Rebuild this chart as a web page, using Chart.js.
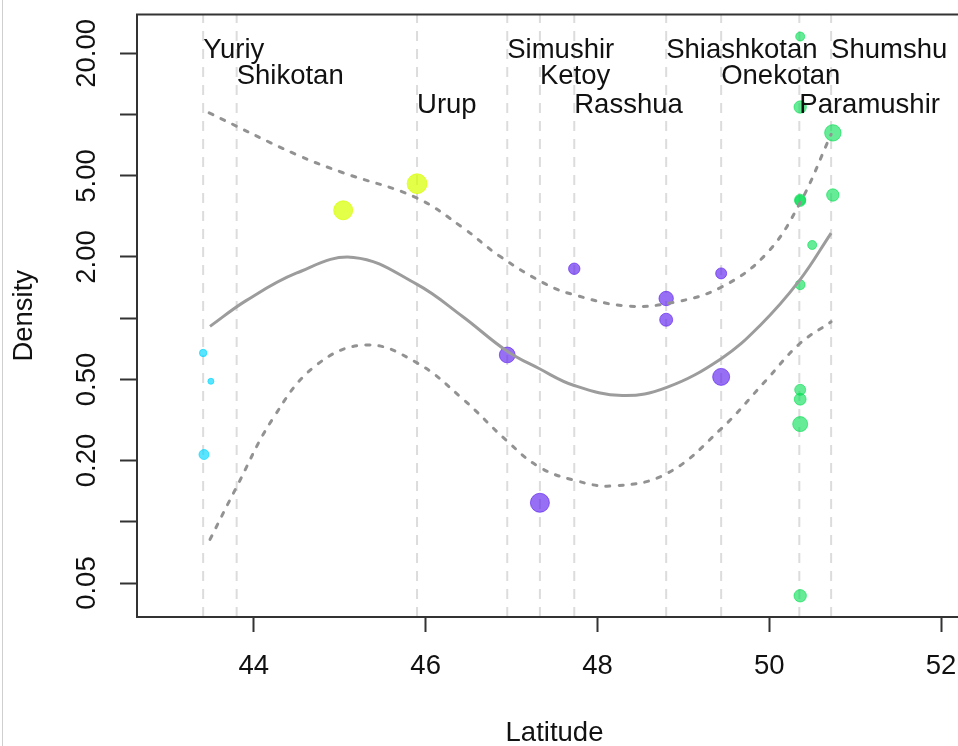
<!DOCTYPE html>
<html>
<head>
<meta charset="utf-8">
<script src="https://cdn.jsdelivr.net/npm/chart.js@4.4.1/dist/chart.umd.min.js"></script>
<style>
  html, body { margin: 0; padding: 0; background: #fff; overflow: hidden; }
  #wrap { position: absolute; left: 0; top: 0; width: 990px; height: 746px; }
  #edge { position: absolute; left: 2px; top: 0; width: 1px; height: 746px; background: #cfcfcf; }
</style>
</head>
<body>
<div id="wrap"><canvas id="kuril" width="990" height="746"></canvas></div>
<div id="edge"></div>
<script>
  // =============== data ===============
  const islands = ["Yuriy", "Shikotan", "Urup", "Simushir", "Ketoy", "Rasshua", "Shiashkotan", "Onekotan", "Paramushir", "Shumshu"];
  const islandLat = [43.41, 43.80, 45.90, 46.95, 47.33, 47.73, 48.80, 49.44, 50.35, 50.72];
  const labelRowDensity = [20.6, 15.4, 11.1];

  const southLat = [43.41, 43.50, 43.42];
  const southDensity = [0.675, 0.490, 0.214];
  const southSize = [3.7, 3, 5];

  const yellowLat = [45.04, 45.90];
  const yellowDensity = [3.39, 4.58];
  const yellowSize = [9.5, 9.9];

  const middleLat = [46.95, 47.33, 47.73, 48.80, 48.80, 49.44, 49.44];
  const middleDensity = [0.660, 0.124, 1.75, 1.25, 0.983, 1.66, 0.515];
  const middleSize = [7.9, 9.5, 5.7, 7.2, 6.5, 5.5, 8.5];

  const northLat = [50.36, 50.36, 50.74, 50.36, 50.36, 50.74, 50.50, 50.36, 50.36, 50.36, 50.36, 50.36];
  const northDensity = [24.2, 10.9, 8.14, 3.82, 3.77, 4.03, 2.29, 1.46, 0.445, 0.400, 0.302, 0.0433];
  const northSize = [4.5, 6.2, 8.2, 5.5, 5.5, 6.2, 4.5, 4.9, 5.5, 5.9, 7.5, 6.2];

  const fitLat = [43.49, 43.91, 44.50, 45.16, 45.89, 46.43, 46.94, 47.32, 47.73, 48.29, 48.80, 49.44, 49.89, 50.35, 50.72];
  const fitDensity = [0.912, 1.22, 1.67, 1.99, 1.475, 1.02, 0.693, 0.566, 0.467, 0.417, 0.456, 0.633, 0.919, 1.53, 2.62];

  const upperLat = [43.48, 44.49, 45.03, 45.89, 46.43, 46.86, 47.40, 47.71, 48.33, 48.88, 49.44, 49.96, 50.35, 50.72];
  const upperDensity = [10.2, 6.38, 5.2, 3.91, 2.79, 2.02, 1.47, 1.31, 1.15, 1.195, 1.42, 2.06, 3.63, 8.0];

  const lowerLat = [43.49, 43.79, 44.22, 44.72, 45.31, 45.89, 46.43, 46.94, 47.32, 47.73, 48.18, 48.80, 49.42, 49.96, 50.35, 50.72];
  const lowerDensity = [0.0819, 0.1456, 0.3206, 0.585, 0.739, 0.607, 0.402, 0.251, 0.186, 0.160, 0.150, 0.172, 0.281, 0.494, 0.747, 0.96];

  const xTicks = [44, 46, 48, 50, 52];
  const yTicks = [20, 10, 5, 2, 1, 0.5, 0.2, 0.1, 0.05];
  const yTickLabels = [20, 5, 2, 0.5, 0.2, 0.05];
  const xMin = 42.64, xMax = 52.36;
  const yMin = 0.03406, yMax = 31.05;

  const pts = (xs, ys) => xs.map((x, i) => ({ x: x, y: ys[i] }));

  const font = '"Liberation Sans", Arial, Helvetica, sans-serif';
  const textSize = 27.5;
  Chart.defaults.font.family = font;
  Chart.defaults.color = "#111";

  // island reference lines (dashed, light grey)
  const islandLines = islandLat.map((lat) => ({
    data: [{ x: lat, y: yMin }, { x: lat, y: yMax }],
    showLine: true,
    borderColor: "#dcdcdc",
    borderWidth: 2,
    borderDash: [10, 8],
    pointRadius: 0,
    order: 3,
  }));

  const group = (xs, ys, sizes, color) => ({
    data: pts(xs, ys),
    backgroundColor: color,
    borderColor: color,
    borderWidth: 1,
    pointRadius: sizes,
    pointHoverRadius: sizes,
    order: 2,
  });

  const curve = (xs, ys, color, dash) => ({
    data: pts(xs, ys),
    showLine: true,
    borderColor: color,
    borderWidth: 3,
    borderDash: dash,
    borderCapStyle: dash.length ? "round" : "butt",
    tension: 0.4,
    pointRadius: 0,
    order: 1,
  });

  const frame = {
    id: "frame",
    afterDatasetsDraw(chart) {
      const { ctx, chartArea: a, scales } = chart;
      ctx.save();
      ctx.strokeStyle = "#333";
      ctx.lineWidth = 2;
      ctx.strokeRect(a.left, a.top, a.right - a.left, a.bottom - a.top);
      ctx.fillStyle = "#111";
      ctx.font = textSize + "px " + font;
      ctx.textBaseline = "middle";
      ctx.textAlign = "left";
      islands.forEach((name, i) => {
        ctx.fillText(name, scales.x.getPixelForValue(islandLat[i]), scales.y.getPixelForValue(labelRowDensity[i % 3]));
      });
      ctx.restore();
    },
  };

  const kuril = document.getElementById("kuril");
  new Chart(kuril, {
    type: "scatter",
    plugins: [frame],
    data: {
      datasets: [
        ...islandLines,
        group(southLat, southDensity, southSize, "rgba(0, 214, 255, 0.65)"),
        group(yellowLat, yellowDensity, yellowSize, "rgba(218, 255, 0, 0.72)"),
        group(middleLat, middleDensity, middleSize, "rgba(96, 36, 240, 0.66)"),
        group(northLat, northDensity, northSize, "rgba(0, 222, 80, 0.6)"),
        curve(fitLat, fitDensity, "#9c9c9c", []),
        curve(upperLat, upperDensity, "#929292", [4, 9]),
        curve(lowerLat, lowerDensity, "#929292", [4, 9]),
      ],
    },
    options: {
      responsive: false,
      animation: false,
      devicePixelRatio: 1,
      layout: { padding: { left: 0, top: 13, right: 18, bottom: 0 } },
      plugins: {
        legend: { display: false },
        tooltip: { enabled: false },
      },
      scales: {
        x: {
          type: "linear",
          min: xMin,
          max: xMax,
          afterBuildTicks: (s) => { s.ticks = xTicks.map((v) => ({ value: v })); },
          afterFit: (s) => { s.height = 129; },
          ticks: {
            autoSkip: false,
            maxRotation: 0,
            padding: 18,
            color: "#111",
            font: { size: textSize },
            callback: (v) => String(v),
          },
          grid: { drawOnChartArea: false, drawTicks: true, tickLength: 15, tickWidth: 2, tickColor: "#333" },
          border: { display: false },
          title: { display: true, text: "Latitude", color: "#111", font: { size: textSize, lineHeight: 1 }, padding: { top: 0, bottom: -1 } },
        },
        y: {
          type: "logarithmic",
          min: yMin,
          max: yMax,
          afterBuildTicks: (s) => { s.ticks = yTicks.map((v) => ({ value: v })); },
          afterFit: (s) => { s.width = 137; },
          ticks: {
            autoSkip: false,
            minRotation: 90,
            maxRotation: 90,
            crossAlign: "center",
            padding: -2,
            color: "#111",
            font: { size: textSize },
            callback: (v) => (yTickLabels.includes(v) ? v.toFixed(2) : ""),
          },
          grid: { drawOnChartArea: false, drawTicks: true, tickLength: 17, tickWidth: 2, tickColor: "#333" },
          border: { display: false },
          title: { display: true, text: "Density", color: "#111", font: { size: textSize, lineHeight: 1 }, padding: { top: 11, bottom: 0 } },
        },
      },
    },
  });
</script>
</body>
</html>
